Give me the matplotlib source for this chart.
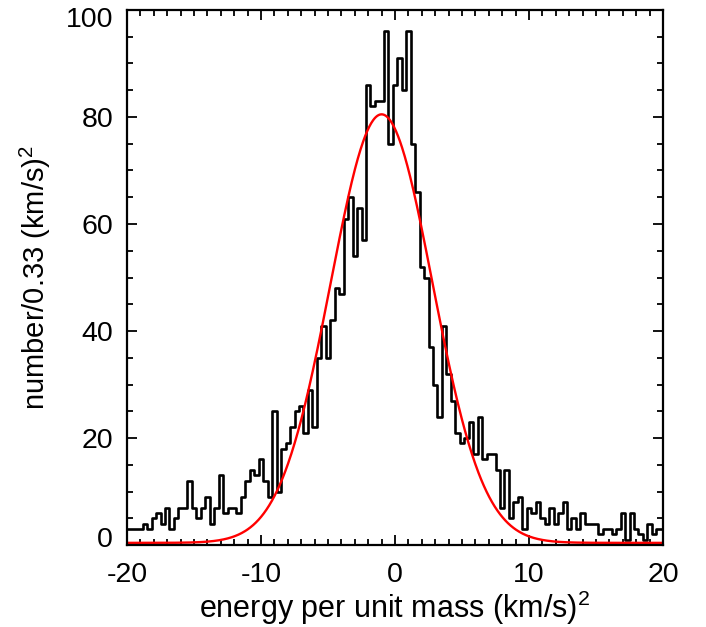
import numpy as np
import matplotlib
matplotlib.use("Agg")
import matplotlib.pyplot as plt
from matplotlib.ticker import MultipleLocator
from matplotlib.transforms import ScaledTranslation

plt.rcParams['font.family'] = ['Liberation Sans', 'DejaVu Sans']
plt.rcParams['mathtext.fontset'] = 'custom'
plt.rcParams['mathtext.rm'] = 'Liberation Sans'
plt.rcParams['axes.unicode_minus'] = False

# histogram: bins of 1/3 (km/s)^2, first bin centred on -20
x_min = -20.0
bin_width = 1.0 / 3.0
counts = [3, 3, 3, 3, 4, 3, 5, 6, 4, 7, 3,
          5, 7, 7, 12, 7, 5, 7, 9, 4, 7,
          13, 6, 7, 7, 6, 9, 12, 14, 13, 16,
          12, 9, 25, 10, 18, 19, 22, 25, 26, 21,
          29, 22, 35, 41, 35, 42, 48, 47, 61, 65,
          54, 63, 57, 86, 82, 83, 83, 96, 75, 86,
          91, 85, 96, 75, 66, 52, 50, 37, 30, 24,
          41, 32, 27, 21, 19, 20, 23, 17, 24, 16,
          17, 17, 14, 7, 14, 5, 8, 9, 3, 7,
          6, 8, 5, 4, 7, 4, 6, 8, 3, 5,
          3, 6, 4, 4, 4, 2, 3, 3, 2, 3,
          6, 1, 6, 3, 2, 1, 4, 2, 3, 3]

# gaussian fit
g_amp = 80.1
g_mu = -1.0
g_sigma = 3.8
g_const = 0.4

centers = x_min + bin_width * np.arange(len(counts))
xg = np.linspace(-20, 20, 800)
yg = g_amp * np.exp(-(xg - g_mu) ** 2 / (2 * g_sigma ** 2)) + g_const

fig = plt.figure(figsize=(7.06, 6.27), dpi=100)
ax = fig.add_axes([127 / 706, 82 / 627, 536 / 706, 535 / 627])

ax.step(centers, counts, where='mid', color='black', lw=1.9)
ax.plot(xg, yg, color='red', lw=1.7)

ax.set_xlim(-20, 20)
ax.set_ylim(0, 100)
ax.xaxis.set_major_locator(MultipleLocator(10))
ax.xaxis.set_minor_locator(MultipleLocator(1))
ax.yaxis.set_major_locator(MultipleLocator(20))
ax.yaxis.set_minor_locator(MultipleLocator(5))
ax.tick_params(which='both', direction='in', top=True, right=True,
               width=1.3, labelsize=20.5)
ax.tick_params(which='major', length=7.5)
ax.tick_params(which='minor', length=4)
ax.tick_params(axis='x', pad=12)
ax.tick_params(axis='y', pad=10)
for s in ax.spines.values():
    s.set_linewidth(1.6)

ax.set_xlabel('energy per unit mass (km/s)$^2$', fontsize=22, labelpad=1)
ax.set_ylabel('number/0.33 (km/s)$^2$', fontsize=21, labelpad=9)

fig.canvas.draw()
labs = ax.get_yticklabels()
for lab in labs:
    t = lab.get_text()
    if t == '0':
        lab.set_transform(lab.get_transform() + ScaledTranslation(0, 0.08, fig.dpi_scale_trans))
    elif t == '100':
        lab.set_transform(lab.get_transform() + ScaledTranslation(0, -0.07, fig.dpi_scale_trans))

fig.savefig('out.png', dpi=100)
